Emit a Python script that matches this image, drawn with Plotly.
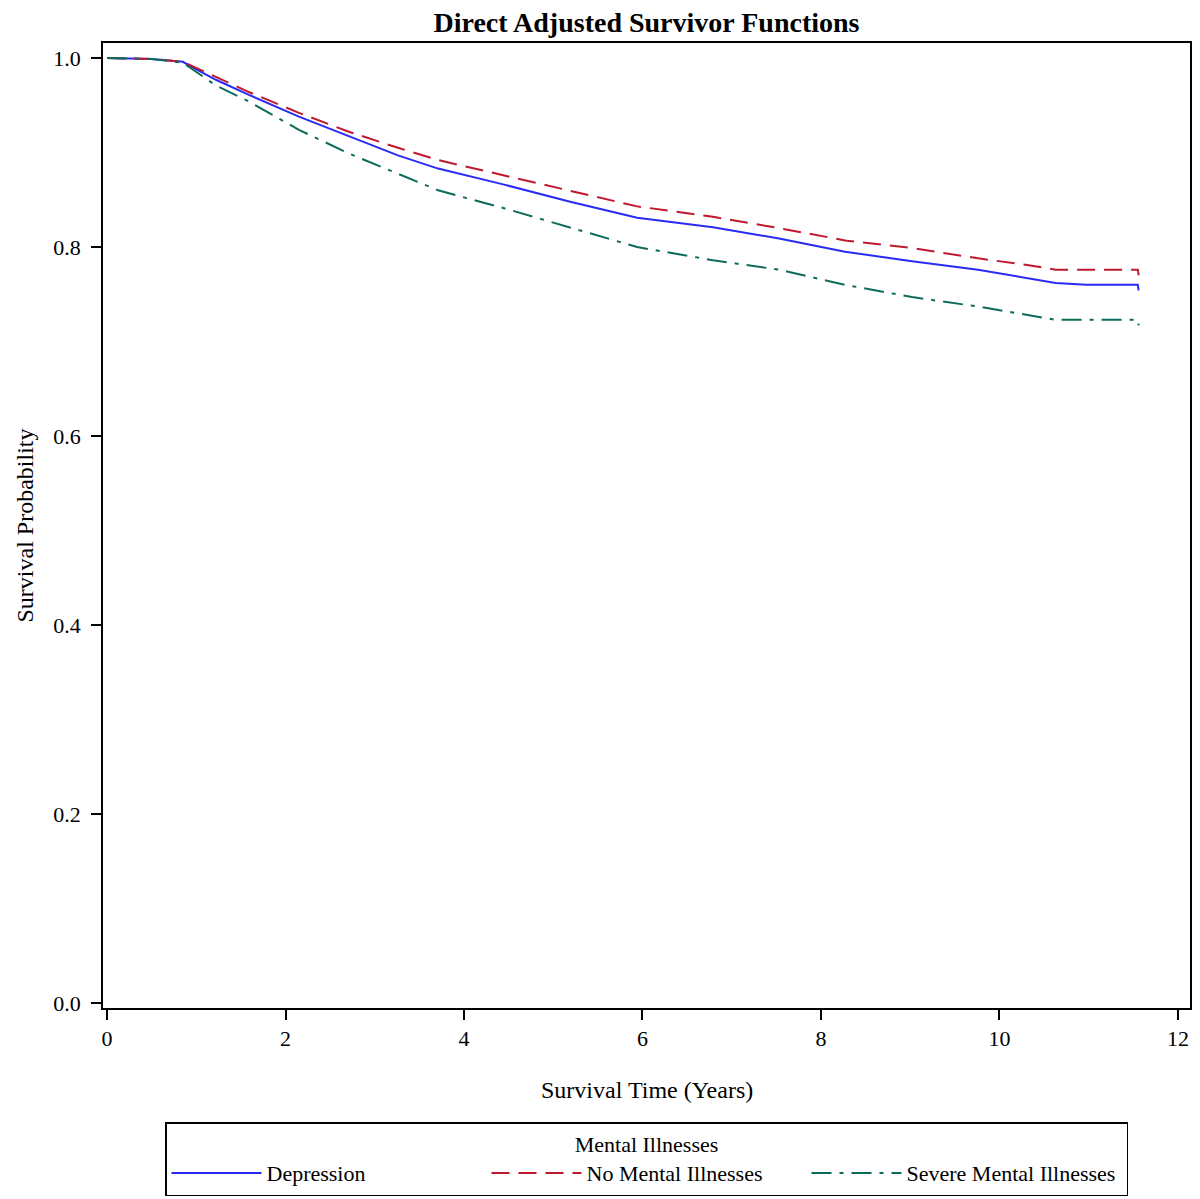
import plotly.graph_objects as go

# Survival time (years) grid at which curves were read
time_pts = [0.0, 0.5, 0.85, 0.96, 1.22, 1.59, 2.15, 2.71, 3.26, 3.71, 4.45, 5.19,
            5.94, 6.79, 7.53, 8.27, 9.02, 9.76, 10.31, 10.63, 10.97, 11.55, 11.56]

depression = [1.0, 0.999, 0.996, 0.990, 0.977, 0.961, 0.938, 0.917, 0.897, 0.883,
              0.866, 0.848, 0.831, 0.821, 0.809, 0.795, 0.785, 0.776, 0.767, 0.762,
              0.760, 0.760, 0.754]
no_mental = [1.0, 0.999, 0.996, 0.991, 0.980, 0.964, 0.942, 0.922, 0.905, 0.892,
             0.876, 0.860, 0.843, 0.832, 0.820, 0.807, 0.799, 0.788, 0.781, 0.776,
             0.776, 0.776, 0.770]
severe = [1.0, 0.999, 0.995, 0.988, 0.971, 0.954, 0.924, 0.899, 0.878, 0.860,
          0.841, 0.821, 0.800, 0.786, 0.776, 0.760, 0.747, 0.737, 0.728, 0.723,
          0.723, 0.723, 0.717]

series_names = ["Depression", "No Mental Illnesses", "Severe Mental Illnesses"]
x_ticks = [0, 2, 4, 6, 8, 10, 12]
y_ticks = [0.0, 0.2, 0.4, 0.6, 0.8, 1.0]

font_family = "Liberation Serif"
# the page body offsets the figure by 8px, so lay out in page coords minus 8
W, H = 1184, 1191
ML, MR, MT = 95, 2, 35
PLOT_BOTTOM = 1000
MB = H - PLOT_BOTTOM
PW, PH = W - ML - MR, H - MT - MB

fig = go.Figure()
styles = [
    (depression, "#2a2af5", "solid"),
    (no_mental, "#c0182e", "18px,9px"),
    (severe, "#0d6b5c", "20px,8px,4px,8px"),
]
for name, (vals, color, dash) in zip(series_names, styles):
    fig.add_trace(go.Scatter(
        x=time_pts, y=vals, mode="lines", name=name,
        line=dict(color=color, width=2, dash=dash, shape="linear"),
    ))

axis_common = dict(
    showline=True, linecolor="black", linewidth=1.5, mirror=True,
    ticks="outside", ticklen=10, tickwidth=1.5, tickcolor="black",
    showgrid=False, zeroline=False, automargin=False,
    ticklabeloverflow="allow",
    tickfont=dict(family=font_family, size=22, color="black"),
)

fig.update_layout(
    width=W, height=H,
    margin=dict(l=ML, r=MR, t=MT, b=MB),
    paper_bgcolor="white", plot_bgcolor="white",
    font=dict(family=font_family, color="black", size=22),
    title=dict(text="<b>Direct Adjusted Survivor Functions</b>",
               x=0.5, xref="paper", xanchor="center",
               y=1 - 4 / H, yref="container", yanchor="top",
               font=dict(family=font_family, size=28, color="black")),
    xaxis=dict(range=[-0.045, 12.135], tickvals=x_ticks, **axis_common),
    yaxis=dict(range=[-0.0053, 1.0159], tickvals=y_ticks, tickformat=".1f",
               ticklabelstandoff=6, **axis_common),
    annotations=[
        dict(text="Survival Time (Years)", xref="paper", yref="paper",
             x=0.5, y=-(1082 - PLOT_BOTTOM) / PH, xanchor="center", yanchor="middle",
             showarrow=False, font=dict(family=font_family, size=24)),
        dict(text="Survival Probability", xref="paper", yref="paper",
             x=-(ML - 1) / PW, y=0.5, xanchor="left", yanchor="middle",
             textangle=-90, showarrow=False,
             font=dict(family=font_family, size=24)),
    ],
    showlegend=True,
    legend=dict(
        orientation="h", x=0.5, xanchor="center",
        yref="container", y=1 - 1114 / H, yanchor="top",
        bordercolor="black", borderwidth=1.5, bgcolor="white",
        title=dict(text="Mental Illnesses", side="top center",
                   font=dict(family=font_family, size=22)),
        font=dict(family=font_family, size=22),
        itemwidth=90,
        entrywidth=215, entrywidthmode="pixels",
        traceorder="normal",
    ),
)

fig.write_html("out.html")
